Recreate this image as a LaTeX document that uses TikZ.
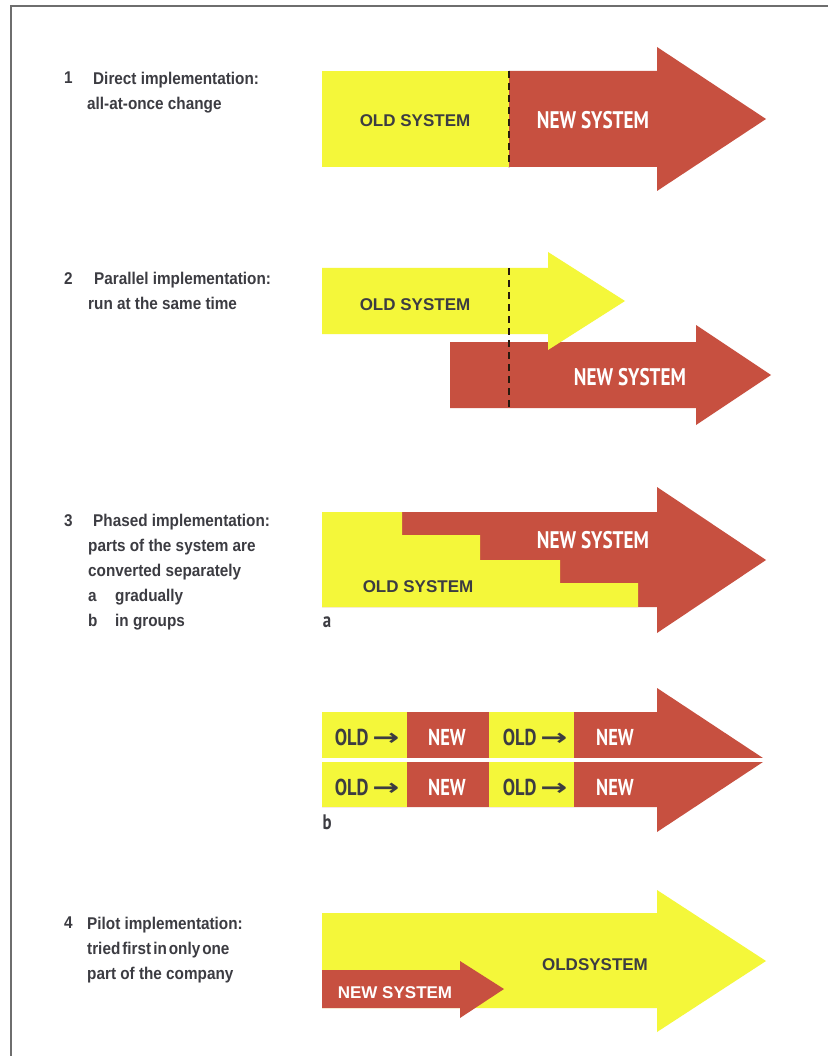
\documentclass[tikz,border=0pt]{standalone}
\usepackage{fontspec}
\usepackage{graphicx}
\setmainfont{Liberation Sans}
\newfontfamily\itemfont[FakeStretch=0.9]{Liberation Sans}
\newfontfamily\condfont[FakeStretch=0.8]{PT Sans}
\newfontfamily\arrowfont{DejaVu Sans}
\usetikzlibrary{positioning}

\definecolor{oldyellow}{RGB}{244,247,58}
\definecolor{newred}{RGB}{199,80,64}
\definecolor{textgrey}{RGB}{60,60,66}
\definecolor{framegrey}{RGB}{110,110,110}

\newcommand{\stepto}{{\arrowfont\bfseries\scalebox{1.4}[1]{→}}}

\begin{document}
\begin{tikzpicture}[x=1pt, y=-1pt,
        oldpart/.style={fill=oldyellow},
        newpart/.style={fill=newred},
        cutline/.style={draw=black!80!brown, line width=2pt, dash pattern=on 7pt off 5pt},
        itemtext/.style={anchor=north west, inner sep=0pt, align=left, text=textgrey, font=\itemfont\bfseries\fontsize{17}{25}\selectfont},
        oldlabel/.style={text=textgrey, inner sep=0pt, font=\bfseries\fontsize{17}{20}\selectfont},
        newlabel/.style={text=white, inner sep=0pt, font=\condfont\bfseries\fontsize{24}{28}\selectfont},
        blocklabel/.style={inner sep=0pt, font=\condfont\bfseries\fontsize{23}{26}\selectfont},
        sublabel/.style={text=textgrey, inner sep=0pt, font=\condfont\bfseries\fontsize{21}{22}\selectfont}
    ]

    \fill[white] (0,0) rectangle (828,1056);
    \useasboundingbox (0,0) rectangle (828,1056);

    % frame
    \draw[framegrey, line width=2.5pt] (11,1056) -- (11,6) -- (828,6);

    % left column
    \node[itemtext] (num1) at (64,72) {1};
    \node[itemtext] (item1) at (87,72) {\hspace*{6pt}Direct implementation:\\all-at-once change};
    \node[itemtext] (num2) at (64,272) {2};
    \node[itemtext] (item2) at (88,272) {\hspace*{6pt}Parallel implementation:\\run at the same time};
    \node[itemtext] (num3) at (64,514) {3};
    \node[itemtext] (item3) at (88,514) {\hspace*{5pt}Phased implementation:\\parts of the system are\\converted separately\\\makebox[27pt][l]{a}gradually\\\makebox[27pt][l]{b}in groups};
    \node[itemtext] (num4) at (64,917) {4};
    \node[itemtext] (item4) at (87,917) {Pilot implementation:\\{\spaceskip=2pt tried first in only one}\\part of the company};

    % 1 direct
    \fill[newpart] (509,71) -- (657,71) -- (657,47) -- (766,119) -- (657,191) -- (657,167) -- (509,167) -- cycle;
    \fill[oldpart] (322,71) rectangle (509,167);
    \draw[cutline] (509,71) -- (509,167);
    \node[oldlabel] (old1) at (415,121) {OLD SYSTEM};
    \node[newlabel] (new1) at (593,120) {NEW SYSTEM};

    % 2 parallel
    \fill[newpart] (450,342) -- (696,342) -- (696,325) -- (771,375) -- (696,425) -- (696,408) -- (450,408) -- cycle;
    \fill[oldpart] (322,268) -- (548,268) -- (548,252) -- (625,301) -- (548,350) -- (548,334) -- (322,334) -- cycle;
    \draw[cutline] (509,268) -- (509,408);
    \node[oldlabel] (old2) at (415,305) {OLD SYSTEM};
    \node[newlabel] (new2) at (630,377) {NEW SYSTEM};

    % 3a phased, gradually
    \fill[newpart] (322,512) -- (657,512) -- (657,487) -- (766,560) -- (657,633) -- (657,607) -- (322,607) -- cycle;
    \fill[oldpart] (322,512) -| (402,535) -| (480,560) -| (560,583) -| (638,607) -- (322,607) -- cycle;
    \node[newlabel] (new3a) at (593,540) {NEW SYSTEM};
    \node[oldlabel] (old3a) at (418,587) {OLD SYSTEM};
    \node[sublabel] (tag3a) at (327,622) {a};

    % 3b phased, in groups
    \fill[newpart] (322,712) -- (657,712) -- (657,688) -- (766,760) -- (657,832) -- (657,807) -- (322,807) -- cycle;
    \fill[oldpart] (322,712) rectangle (407,807);
    \fill[oldpart] (489,712) rectangle (574,807);
    \draw[white, line width=4pt] (322,760) -- (770,760);
    \node[blocklabel, text=textgrey] (oldb1) at (367,737) {OLD\,\stepto};
    \node[blocklabel, text=white] (newb1) at (447,737) {NEW};
    \node[blocklabel, text=textgrey] (oldb2) at (535,737) {OLD\,\stepto};
    \node[blocklabel, text=white] (newb2) at (615,737) {NEW};
    \node[blocklabel, text=textgrey] (oldb3) at (367,787) {OLD\,\stepto};
    \node[blocklabel, text=white] (newb3) at (447,787) {NEW};
    \node[blocklabel, text=textgrey] (oldb4) at (535,787) {OLD\,\stepto};
    \node[blocklabel, text=white] (newb4) at (615,787) {NEW};
    \node[sublabel] (tag3b) at (327,822) {b};

    % 4 pilot
    \fill[oldpart] (322,913) -- (657,913) -- (657,890) -- (766,961) -- (657,1032) -- (657,1008) -- (322,1008) -- cycle;
    \fill[newpart] (322,970) -- (460,970) -- (460,961) -- (504,989) -- (460,1018) -- (460,1008) -- (322,1008) -- cycle;
    \node[oldlabel] (old4) at (595,965) {OLDSYSTEM};
    \node[oldlabel, text=white] (new4) at (395,993) {NEW SYSTEM};

\end{tikzpicture}
\end{document}
